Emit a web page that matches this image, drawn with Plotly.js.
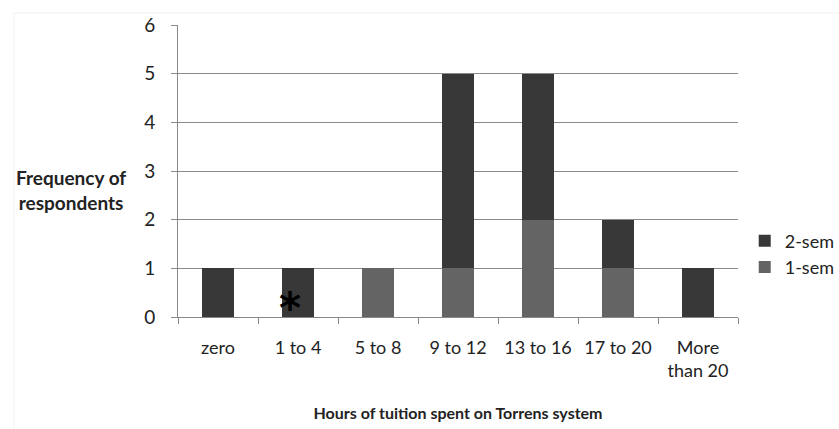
<!DOCTYPE html>
<html><head><meta charset="utf-8">
<script src="https://cdn.plot.ly/plotly-3.0.1.min.js"></script>
<style>body{margin:0;background:#fff}#c{width:839px;height:429px}</style>
</head><body><div id="c"></div>
<script>
const categories = ["zero","1 to 4","5 to 8","9 to 12","13 to 16","17 to 20","More<br>than 20"];
const oneSem = [0,0,1,1,2,1,0];
const twoSem = [1,1,0,4,3,1,1];
const yTicks = [0,1,2,3,4,5,6];

const font = "Lato, 'Open Sans', sans-serif";
const traces = [
  {type:"bar", name:"1-sem", legendgroup:"b", x:categories, y:oneSem, marker:{color:"#646464"}},
  {type:"bar", name:"2-sem", legendgroup:"a", x:categories, y:twoSem, marker:{color:"#383838"}}
];
const layout = {
  width:839, height:429, barmode:"stack", bargap:0.6,
  margin:{l:178, r:101, t:25, b:112, autoexpand:false},
  paper_bgcolor:"#fff", plot_bgcolor:"#fff",
  font:{family:font, size:18, color:"#222"},
  showlegend:true,
  legend:{x:1.012, y:0.216, xanchor:"left", yanchor:"middle", traceorder:"reversed",
          font:{size:18, color:"#222"}, itemwidth:30, tracegroupgap:12},
  xaxis:{type:"category", tickson:"boundaries", ticks:"outside", ticklen:6, tickcolor:"#888",
         showline:true, linecolor:"#888", tickfont:{size:18}, fixedrange:true, ticklabelstandoff:14,
         title:{text:"<b>Hours of tuition spent on Torrens system</b>", font:{size:16}, standoff:27}},
  yaxis:{range:[0,6], tickvals:yTicks, ticks:"outside", ticklen:6, tickcolor:"#888",
         showline:true, linecolor:"#888", gridcolor:"#8a8a8a", gridwidth:1, zeroline:false,
         tickfont:{size:19}, ticklabelstandoff:12},
  shapes:[
    {type:"rect", xref:"paper", yref:"paper", x0:(14-178)/560, x1:(845-178)/560,
     y0:(317-435)/292, y1:(317-13)/292, line:{color:"#f6f6f6", width:1.5}, layer:"below"}
  ],
  annotations:[
    {xref:"paper", yref:"paper", x:(71-178)/560, y:(317-190)/292, xanchor:"center", yanchor:"middle",
     text:"<b>Frequency of<br>respondents</b>", showarrow:false, font:{size:19}, align:"center"},
    {xref:"x", yref:"y", x:"1 to 4", y:0, yanchor:"bottom", yshift:-18, xshift:-8, text:"<b>*</b>", showarrow:false,
     font:{size:42, color:"#000", family:"DejaVu Sans"}}
  ]
};
Plotly.newPlot("c", traces, layout, {displayModeBar:false, staticPlot:true});
</script></body></html>
